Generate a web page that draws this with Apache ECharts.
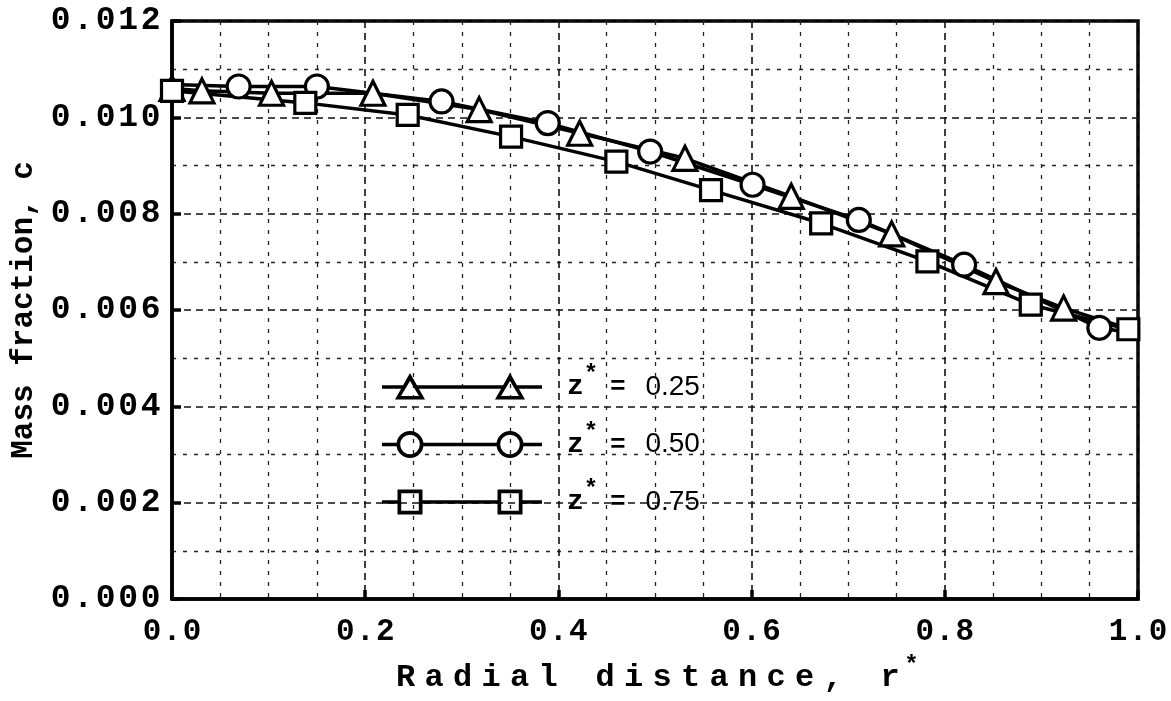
<!DOCTYPE html>
<html>
<head>
<meta charset="utf-8">
<script src="https://cdn.jsdelivr.net/npm/echarts@6/dist/echarts.min.js"></script>
<style>
html,body{margin:0;padding:0;background:#fff;}
#chart{width:1171px;height:701px;}
</style>
</head>
<body>
<div id="chart"></div>
<script>
// ---- data (c in units of mass fraction) ----
const rZ025 = [0.0, 0.031, 0.103, 0.208, 0.318, 0.422, 0.531, 0.641, 0.745, 0.853, 0.923, 1.0];
const cZ025 = [0.01060, 0.01055, 0.01050, 0.01050, 0.01016, 0.00967, 0.00915, 0.00836, 0.00758, 0.00659, 0.00604, 0.00555];

const rZ050 = [0.0, 0.069, 0.150, 0.279, 0.389, 0.495, 0.601, 0.711, 0.820, 0.960, 1.0];
const cZ050 = [0.01068, 0.01064, 0.01064, 0.01033, 0.00988, 0.00929, 0.00860, 0.00787, 0.00694, 0.00563, 0.00550];

const rZ075 = [0.0, 0.138, 0.244, 0.351, 0.460, 0.558, 0.672, 0.782, 0.889, 0.990];
const cZ075 = [0.01055, 0.01030, 0.01005, 0.00960, 0.00908, 0.00849, 0.00780, 0.00701, 0.00611, 0.00560];

const seriesNames = ['z*=0.25', 'z*=0.50', 'z*=0.75'];
const legendValues = ['0.25', '0.50', '0.75'];
const xTicks = [0.0, 0.2, 0.4, 0.6, 0.8, 1.0];
const yTicks = [0.000, 0.002, 0.004, 0.006, 0.008, 0.010, 0.012];
const xTitle = 'Radial distance, r';
const yTitle = 'Mass fraction, c';

function pairs(rs, cs) { return rs.map((r, i) => [r, cs[i]]); }

// spread characters at a fixed pitch (typewriter look) using rich-text tokens
function spaced(str, key) {
  return str.split('').map(ch => '{' + key + '|' + (ch === ' ' ? '\u00a0' : ch) + '}').join('');
}

// ---- legend icons: line with two hollow markers (drawn as filled rings) ----
const W = 160, H = 34, CY = 17, C1 = 28, C2 = 128;
function seg(x1, x2) { return `M${x1},${CY-1.8} L${x2},${CY-1.8} L${x2},${CY+1.8} L${x1},${CY+1.8} Z `; }
function triRing(cx) {
  return `M${cx},${CY-14} L${cx+15},${CY+12.5} L${cx-15},${CY+12.5} Z M${cx},${CY-6} L${cx-9},${CY+9} L${cx+9},${CY+9} Z `;
}
function cirRing(cx) {
  return `M${cx+13.5},${CY} A13.5,13.5 0 1 1 ${cx-13.5},${CY} A13.5,13.5 0 1 1 ${cx+13.5},${CY} Z ` +
         `M${cx+9.8},${CY} A9.8,9.8 0 1 0 ${cx-9.8},${CY} A9.8,9.8 0 1 0 ${cx+9.8},${CY} Z `;
}
function sqRing(cx) {
  return `M${cx-12.5},${CY-12.5} L${cx+12.5},${CY-12.5} L${cx+12.5},${CY+12.5} L${cx-12.5},${CY+12.5} Z M${cx-8.8},${CY-8.8} L${cx-8.8},${CY+8.8} L${cx+8.8},${CY+8.8} L${cx+8.8},${CY-8.8} Z `;
}
function frame() { return `M0,0 L0.01,0 L0.01,0.01 Z M${W-0.01},${H-0.01} L${W},${H-0.01} L${W},${H} Z `; }
function iconPath(ring, gap) {
  return 'path://' + frame() + seg(0, C1 - gap) + seg(C1 + gap, C2 - gap) + seg(C2 + gap, W) + ring(C1) + ring(C2);
}
const icons = [iconPath(triRing, 6), iconPath(cirRing, 11.5), iconPath(sqRing, 11)];

const chart = echarts.init(document.getElementById('chart'), null, {renderer: 'canvas'});

const monoBold = {fontFamily: 'Liberation Mono', fontWeight: 'bold', color: '#000'};

function mkSeries(name, data, sym, size) {
  return {
    name: name,
    type: 'line',
    data: data,
    symbol: sym,
    symbolSize: size,
    showSymbol: true,
    showAllSymbol: true,
    clip: false,
    lineStyle: {color: '#000', width: 3.5},
    itemStyle: {color: '#fff', borderColor: '#000', borderWidth: 3.2},
    z: 3
  };
}

const option = {
  animation: false,
  backgroundColor: '#fff',
  grid: {left: 172, right: 33, top: 21, bottom: 102, outerBoundsMode: 'none', containLabel: false,
         show: true, borderColor: '#000', borderWidth: 3.5, backgroundColor: 'transparent'},
  xAxis: {
    type: 'value', min: 0, max: 1, interval: 0.2,
    axisLine: {show: true, onZero: false, lineStyle: {color: '#000', width: 3.5}},
    axisTick: {show: true, inside: true, length: 9, lineStyle: {color: '#000', width: 3.5}},
    minorTick: {show: false, splitNumber: 4},
    axisLabel: {
      margin: 18,
      formatter: v => {
        const t = xTicks.find(k => Math.abs(k - v) < 1e-9);
        return spaced((t === undefined ? v : t).toFixed(1), 'd');
      },
      rich: {d: Object.assign({fontSize: 31, width: 20, align: 'center'}, monoBold)}
    },
    splitLine: {show: true, lineStyle: {color: '#111', width: 1.6, type: [7, 5]}},
    minorSplitLine: {show: true, lineStyle: {color: '#222', width: 1.3, type: [4, 7]}},
    name: spaced(xTitle, 't') + '{s|*}',
    nameLocation: 'middle', nameGap: 55,
    nameTextStyle: {rich: {
      t: Object.assign({fontSize: 32, width: 28.5, align: 'center'}, monoBold),
      s: Object.assign({fontSize: 24, padding: [0, 0, 24, 0]}, monoBold)
    }}
  },
  yAxis: {
    type: 'value', min: 0, max: 0.012, interval: 0.002,
    axisLine: {show: true, onZero: false, lineStyle: {color: '#000', width: 3.5}},
    axisTick: {show: true, inside: true, length: 9, lineStyle: {color: '#000', width: 3.5}},
    minorTick: {show: false, splitNumber: 2},
    axisLabel: {
      margin: 10,
      formatter: v => {
        const t = yTicks.find(k => Math.abs(k - v) < 1e-12);
        return spaced((t === undefined ? v : t).toFixed(3), 'd');
      },
      rich: {d: Object.assign({fontSize: 33, width: 22.5, align: 'center'}, monoBold)}
    },
    splitLine: {show: true, lineStyle: {color: '#111', width: 1.6, type: [7, 5]}},
    minorSplitLine: {show: true, lineStyle: {color: '#222', width: 1.3, type: [4, 7]}},
    name: yTitle,
    nameLocation: 'middle', nameGap: 130,
    nameTextStyle: Object.assign({fontSize: 31}, monoBold)
  },
  legend: {
    orient: 'vertical',
    left: 377, top: 358,
    itemWidth: W, itemHeight: H, itemGap: 16.5,
    data: seriesNames.map((n, i) => ({name: n, icon: icons[i]})),
    itemStyle: {color: '#000', borderWidth: 0},
    selectedMode: false,
    formatter: name => {
      const i = seriesNames.indexOf(name);
      return '{z|z}{s|*}{e|=}{n|' + legendValues[i] + '}';
    },
    textStyle: {
      padding: [0, 0, 0, 20],
      rich: {
        z: {fontFamily: 'Liberation Mono', fontWeight: 'bold', fontSize: 28, color: '#000'},
        s: {fontFamily: 'Liberation Mono', fontWeight: 'bold', fontSize: 24, color: '#000', padding: [0, 12, 24, 0]},
        e: {fontFamily: 'Liberation Sans', fontWeight: 'bold', fontSize: 26, color: '#000'},
        n: {fontFamily: 'Liberation Sans', fontSize: 28, color: '#000', padding: [0, 0, 0, 20]}
      }
    }
  },
  series: [
    mkSeries(seriesNames[0], pairs(rZ025, cZ025), v => (v[0] >= 1 ? 'none' : 'triangle'), 24),
    mkSeries(seriesNames[1], pairs(rZ050, cZ050), v => (v[0] <= 0 || v[0] >= 1 ? 'none' : 'circle'), 23),
    mkSeries(seriesNames[2], pairs(rZ075, cZ075), 'rect', 21)
  ]
};
chart.setOption(option);
</script>
</body>
</html>
